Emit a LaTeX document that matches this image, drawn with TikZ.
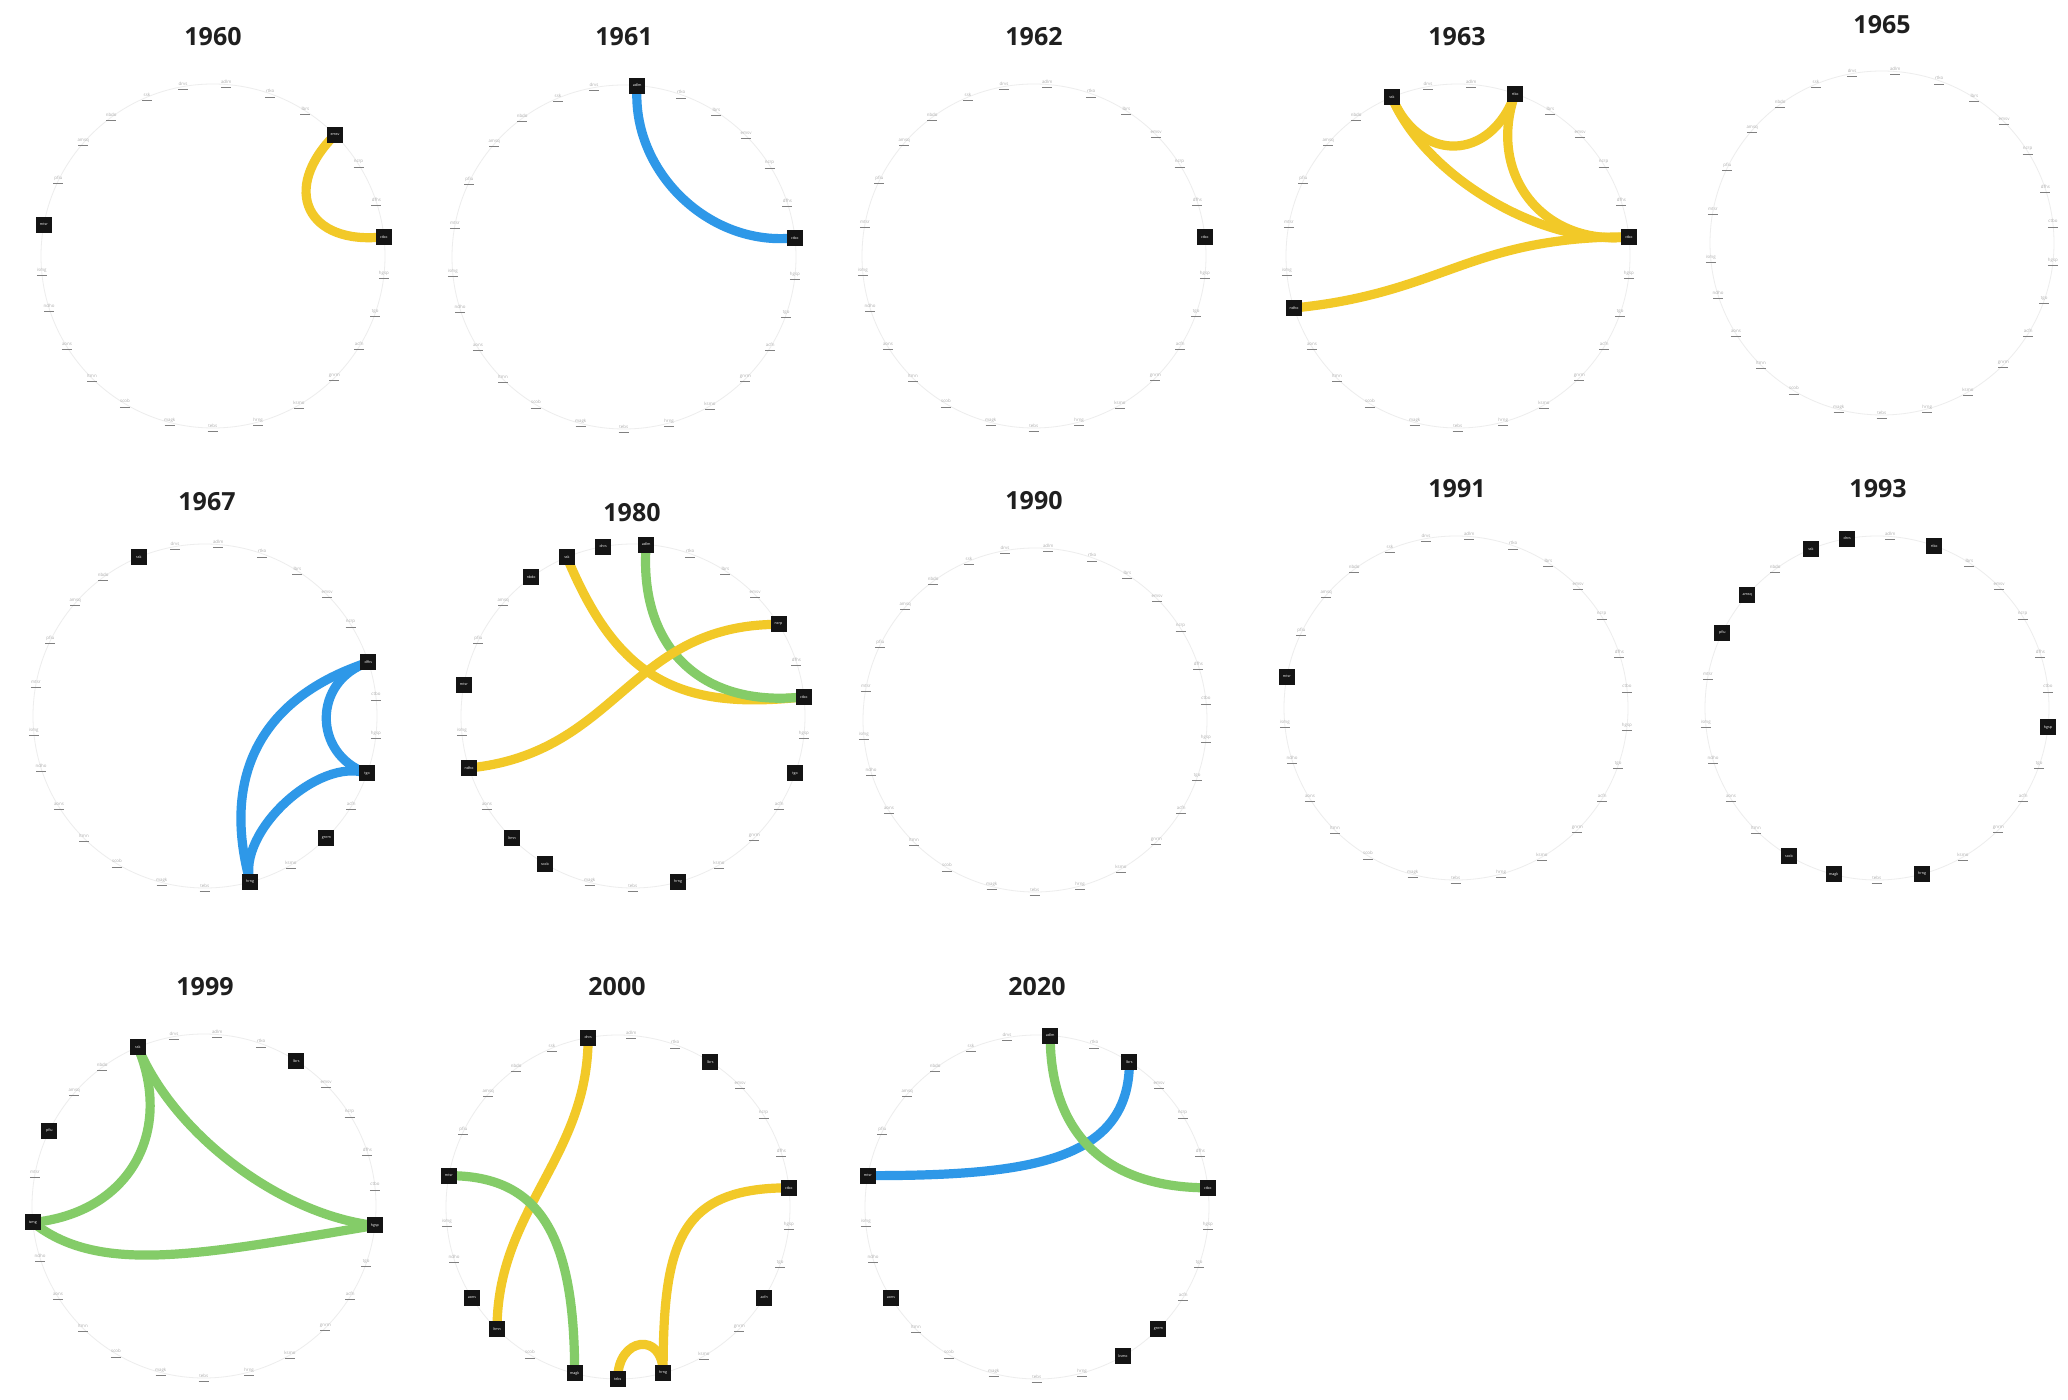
\documentclass[tikz,border=0pt]{standalone}
\usepackage{fontspec}
\setmainfont{Open Sans}
\usetikzlibrary{calc}
\definecolor{cyelc}{RGB}{242,201,40}
\definecolor{cbluc}{RGB}{46,152,232}
\definecolor{cgrnc}{RGB}{132,204,104}
\pgfdeclarelayer{back}
\pgfdeclarelayer{bg}
\pgfsetlayers{back,bg,main}
\tikzset{
  ring/.style={draw=black!7, line width=0.4pt},
  lbl/.style={inner sep=0.2pt, font=\fontsize{2.2}{2.6}\selectfont, text=black!32, align=center},
  hl/.style={fill=black!92, minimum size=8pt, inner sep=0pt, text=white, font=\fontsize{1.8}{2}\selectfont},
  ttl/.style={font=\fontsize{12.5}{14}\selectfont\bfseries, text=black!88, inner sep=0pt},
  cyel/.style={draw=cyelc, line width=4.6pt},
  cblu/.style={draw=cbluc, line width=4.6pt},
  cgrn/.style={draw=cgrnc, line width=4.6pt},
}
\def\nodelist{0/85.6/adlm,1/70.6/rtko,2/57.5/lbrs,3/44.8/emsv,4/32.2/ncrp,5/18.2/dfhs,6/6.4/ctbo,7/-6.5/hgsp,8/-19.5/tgo,9/-31.8/acfn,10/-45.1/gnrm,11/-60/ksmo,12/-74.8/hrng,13/-90.1/tebs,14/-104.6/magk,15/-120.8/scob,16/-134.7/ltmn,17/-148.1/aons,18/-162.4/ndho,19/-174.5/ismg,20/169.5/mtsr,21/154/pfiu,22/139/amsq,23/126.3/nbdo,24/112.6/ssk,25/100/drvs}
\makeatletter
\newcommand\drawpanel[6]{% #1 title, #2 cx, #3 cy, #4 title x, #5 title y, #6 highlighted
  \coordinate (p#1c) at (#2,#3);
  \node[ttl] (t#1) at (#4,#5) {#1};
  \begin{pgfonlayer}{bg}\draw[ring] (p#1c) circle[radius=172];\end{pgfonlayer}
  \foreach \i/\a/\nm in \nodelist {
    \edef\tmpx{\noexpand\in@{,\i,}{,#6,}}\tmpx
    \ifin@
      \node[hl] (p#1n\i) at ([shift={(\a:172)}]p#1c) {\nm};
    \else
      \node[lbl] (p#1n\i) at ([shift={(\a:172)}]p#1c) {\nm\\{\color{black!50}\rule[0.4pt]{5pt}{0.35pt}}};
    \fi
  }
}
\makeatother
\newcommand\fchord[5]{%
  \begin{pgfonlayer}{bg}
  \draw[#1] (p#2n#3.center) .. controls ($(p#2n#3)!#5!(p#2c)$) and ($(p#2n#4)!#5!(p#2c)$) .. (p#2n#4.center);
  \end{pgfonlayer}}
\newcommand\xchord[6]{%
  \begin{pgfonlayer}{bg}
  \draw[#1] (p#2n#3.center) .. controls ($(p#2n#3)+(#5)$) and ($(p#2n#4)+(#6)$) .. (p#2n#4.center);
  \end{pgfonlayer}}
\begin{document}
\begin{tikzpicture}[x=0.5pt,y=0.5pt]
\begin{pgfonlayer}{back}
\fill[white] (0,0) rectangle (2068,1399);
\end{pgfonlayer}
\useasboundingbox (0,0) rectangle (2068,1399);

\drawpanel{1960}{213}{1143}{213}{1362}{3,6,20}
\drawpanel{1961}{624}{1142}{624}{1362}{0,6}
\drawpanel{1962}{1034}{1143}{1034}{1362}{6}
\drawpanel{1963}{1458}{1143}{1457}{1362}{24,1,6,18}
\drawpanel{1965}{1882}{1156}{1882}{1374}{}
\drawpanel{1967}{205}{683}{207}{897}{24,5,8,10,12}
\drawpanel{1980}{633}{683}{632}{886}{23,24,25,0,20,18,16,15,12,8,6,4}
\drawpanel{1990}{1035}{679}{1034}{898}{}
\drawpanel{1991}{1456}{691}{1457}{910}{20}
\drawpanel{1993}{1877}{691}{1878}{910}{25,24,22,21,1,7,15,14,12}
\drawpanel{1999}{204}{193}{205}{412}{24,2,21,19,7}
\drawpanel{2000}{618}{192}{617}{412}{25,2,20,6,17,16,14,13,12,9}
\drawpanel{2020}{1037}{192}{1037}{412}{0,2,20,6,17,10,11}

\fchord{cyel}{1960}{3}{6}{0.45}
\fchord{cblu}{1961}{0}{6}{0.5}
\fchord{cyel}{1963}{24}{1}{0.42}
\fchord{cyel}{1963}{24}{6}{0.5}
\fchord{cyel}{1963}{1}{6}{0.5}
\xchord{cyel}{1963}{18}{6}{150,15}{-160,0}
\fchord{cblu}{1967}{5}{8}{0.34}
\fchord{cblu}{1967}{8}{12}{0.3}
\fchord{cblu}{1967}{5}{12}{0.65}
\fchord{cyel}{1980}{24}{6}{0.75}
\fchord{cgrn}{1980}{0}{6}{0.6}
\xchord{cyel}{1980}{18}{4}{150,15}{-150,0}
\fchord{cgrn}{1999}{24}{19}{0.55}
\fchord{cgrn}{1999}{24}{7}{0.55}
\xchord{cgrn}{1999}{19}{7}{67,-53}{-175,-29}
\xchord{cyel}{2000}{25}{16}{0,-120}{0,120}
\xchord{cgrn}{2000}{20}{14}{90,0}{0,140}
\xchord{cyel}{2000}{13}{12}{0,42}{0,42}
\xchord{cyel}{2000}{6}{12}{-110,0}{0,130}
\xchord{cblu}{2020}{2}{20}{0,-100}{160,0}
\xchord{cgrn}{2020}{0}{6}{0,-100}{-100,0}
\end{tikzpicture}
\end{document}
